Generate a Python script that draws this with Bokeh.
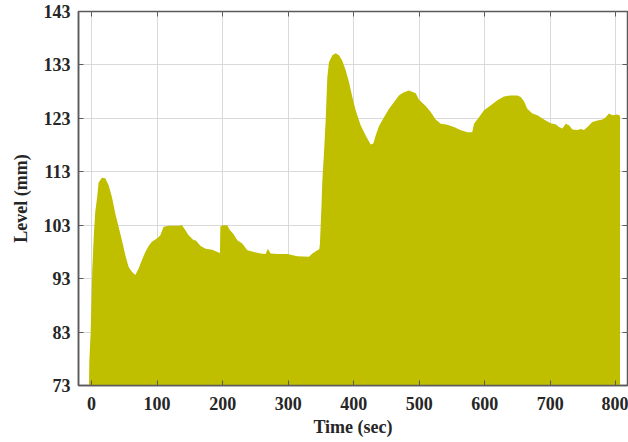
from bokeh.plotting import figure
from bokeh.models import FixedTicker, LinearAxis, Range1d
from bokeh.embed import file_html
from bokeh.resources import INLINE

# ---- data ----
time_sec = [-4, -3.5, -1.5, 1, 3.5, 5.6, 8.7, 10.7, 15.7, 20.9, 26, 31, 36.2, 41.2, 46.3,
            51.5, 56.5, 61.5, 66.7, 71.8, 76.8, 82, 87, 92, 99.7, 104.9, 110, 117.6, 132.8,
            137.9, 143, 148, 151, 155.7, 158.8, 166.4, 174, 184.3, 191.9, 195.9, 196.5,
            199.5, 207, 211, 216.3, 222.4, 230, 237.7, 247.8, 258, 265.6, 269, 273.3, 283.5,
            298.8, 314, 331.8, 337, 344.6, 347.5, 348.5, 349.6, 351, 352.2, 354.7, 357.3,
            359.8, 362.3, 367.5, 372.5, 377.6, 382.7, 387.8, 392.8, 398, 403, 410.7, 418.3,
            426, 430, 433.6, 438.6, 446.3, 454, 461.5, 469, 476.8, 484.4, 494.7, 499.7, 510,
            517.6, 525.2, 533, 543, 553, 563, 573.6, 581, 583.7, 591.3, 599, 609, 619.4,
            629.5, 639.7, 650, 655, 660, 665, 672.8, 680.5, 690.5, 700.8, 708.4, 713.4,
            718.6, 723.7, 728.7, 733.9, 741.5, 746.6, 751.6, 756.8, 764.4, 772, 779.7,
            784.7, 789.8, 795, 802.6, 806.6]
level_mm = [73, 77.5, 82.8, 94.6, 101.5, 105.5, 108.5, 111, 111.9, 111.8, 110.5, 108.3,
            105.2, 102.7, 100.2, 97.4, 95.2, 94.3, 93.7, 94.9, 96.5, 98, 99.1, 99.9, 100.5,
            101.1, 102.7, 102.9, 102.9, 103, 102.1, 101.1, 100.8, 100.2, 100.2, 99.1, 98.6,
            98.4, 98, 97.8, 102.7, 103, 103, 102.1, 101.4, 100.2, 99.6, 98.3, 98, 97.7,
            97.6, 98.6, 97.7, 97.6, 97.6, 97.2, 97.1, 97.7, 98.3, 98.5, 99.5, 102.7, 107,
            111.4, 116.5, 122.7, 130.7, 133.5, 134.8, 135.2, 134.8, 133.8, 132, 129.8, 127,
            124.5, 121.7, 119.8, 118.1, 118.3, 119.8, 121.5, 123.2, 124.8, 126, 127.3, 127.9,
            128.2, 127.7, 126.5, 125.3, 124.2, 122.8, 122, 121.8, 121.4, 120.8, 120.4, 120.4,
            122, 123.2, 124.5, 125.4, 126.4, 127.1, 127.3, 127.3, 127, 126.2, 124.8, 123.9,
            123.6, 122.8, 122.1, 121.9, 121.4, 121.1, 122, 121.7, 120.9, 120.8, 121, 120.8,
            121.4, 122.3, 122.6, 122.8, 123.2, 123.9, 123.6, 123.7, 123.5]
x_ticks = [0, 100, 200, 300, 400, 500, 600, 700, 800]
y_ticks = [73, 83, 93, 103, 113, 123, 133, 143]

FONT = "Liberation Serif"
AX = "#5a5a5a"
TXT = "#262626"

p = figure(width=628, height=442, output_backend="svg", toolbar_location=None,
           x_range=Range1d(-20, 818), y_range=Range1d(73, 143),
           min_border_left=78, min_border_right=1, min_border_top=11, min_border_bottom=57)

p.varea(x=time_sec, y1=73, y2=level_mm, fill_color="#bfbf00", fill_alpha=1.0)

p.outline_line_color = AX
p.outline_line_width = 1.5
p.background_fill_color = "white"
p.border_fill_color = "white"

p.xaxis.ticker = FixedTicker(ticks=x_ticks)
p.yaxis.ticker = FixedTicker(ticks=y_ticks)
p.xgrid.ticker = FixedTicker(ticks=x_ticks)
p.ygrid.ticker = FixedTicker(ticks=y_ticks)
p.grid.grid_line_color = "#d9d9d9"
p.grid.grid_line_width = 1

for ax in (p.xaxis[0], p.yaxis[0]):
    ax.axis_line_color = AX
    ax.axis_line_width = 1.5
    ax.major_tick_line_color = AX
    ax.major_tick_in = 5
    ax.major_tick_out = 0
    ax.minor_tick_line_color = None
    ax.major_label_text_font = FONT
    ax.major_label_text_font_style = "bold"
    ax.major_label_text_font_size = "18px"
    ax.major_label_text_color = TXT
    ax.axis_label_text_font = FONT
    ax.axis_label_text_font_style = "bold"
    ax.axis_label_text_font_size = "18px"
    ax.axis_label_text_color = TXT

p.xaxis.axis_label = "Time (sec)"
p.yaxis.axis_label = "Level (mm)"
p.xaxis.major_label_standoff = 11
p.yaxis.major_label_standoff = 8
p.xaxis.axis_label_standoff = 4
p.yaxis.axis_label_standoff = 10

# mirrored ticks on top and right (box style), no labels
top = LinearAxis(ticker=FixedTicker(ticks=x_ticks))
right = LinearAxis(ticker=FixedTicker(ticks=y_ticks))
top.major_label_overrides = {t: "" for t in x_ticks}
right.major_label_overrides = {t: "" for t in y_ticks}
for ax in (top, right):
    ax.axis_line_color = None
    ax.major_tick_line_color = AX
    ax.major_tick_in = 5
    ax.major_tick_out = 0
    ax.minor_tick_line_color = None
    ax.major_label_standoff = 0
p.add_layout(top, "above")
p.add_layout(right, "right")

open("out.html", "w").write(file_html(p, INLINE))
